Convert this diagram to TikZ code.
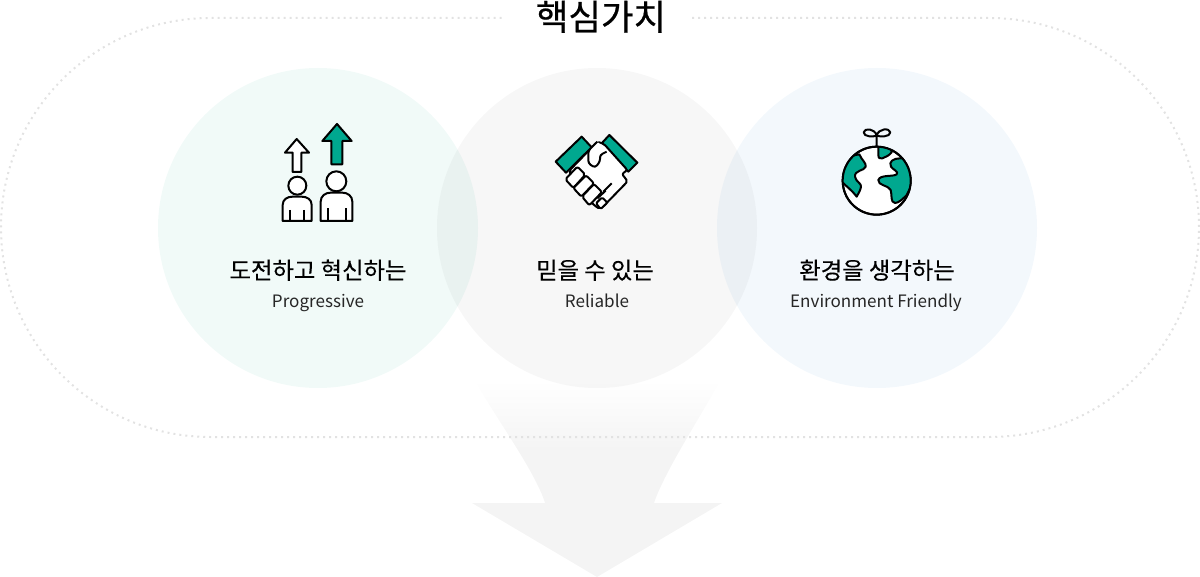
\documentclass[tikz,border=0pt]{standalone}
\usepackage{fontspec}
\setmainfont{Noto Sans CJK KR}
\newfontfamily\titlefont[FakeBold=0.6]{Noto Sans CJK KR}
\newfontfamily\namefont[FakeBold=0.2]{Noto Sans CJK KR}
\definecolor{iconteal}{RGB}{0,168,143}
\definecolor{arrowgray}{RGB}{244,244,244}
\pgfdeclareverticalshading{arrowfade}{100bp}{color(0bp)=(arrowgray); color(56bp)=(arrowgray); color(73bp)=(white); color(100bp)=(white)}
\tikzset{
  valuecircle/.style={draw opacity=0,blend mode=multiply},
  iconline/.style={line width=1.5pt,line join=round,color=black},
  zoomed/.style={x=0.25pt,y=0.25pt},
  titletext/.style={anchor=base,font=\titlefont\fontsize{26.5}{30}\selectfont},
  nametext/.style={anchor=base,font=\namefont\fontsize{17.5}{20}\selectfont},
  subtext/.style={anchor=base,font=\fontsize{12.8}{16}\selectfont,color=black!85}
}

\begin{document}
\begin{tikzpicture}[x=0.75pt,y=0.75pt,yscale=-1,xscale=1]
\useasboundingbox (0,0) rectangle (1200,577);

%Shape: Down arrow
\shade [shading=arrowfade] (470,372) .. controls (490,410) and (535,470) .. (545,503) -- (472,503) -- (597,577) -- (722,503) -- (654,503) .. controls (665,470) and (705,410) .. (725,372) -- cycle ;

%Shape: Dotted outline
\draw [color={rgb, 255:red, 226; green, 226; blue, 226 },line width=1.5pt,dash pattern={on 1.5pt off 3pt}] (692,18) -- (989.5,18) arc (-90:90:209.5) -- (210.5,437) arc (90:270:209.5) -- (505,18) ;

%Shape: Circles
\fill [valuecircle,fill={rgb, 255:red, 241; green, 250; blue, 248 }] (318,228) circle (160) ;
\fill [valuecircle,fill={rgb, 255:red, 247; green, 247; blue, 247 }] (597,228) circle (160) ;
\fill [valuecircle,fill={rgb, 255:red, 243; green, 248; blue, 252 }] (877,228) circle (160) ;

%Icon: People and arrows
\begin{scope}[shift={(260,110)},zoomed]
\draw [iconline,fill=white] (110,87) -- (147,128) -- (124,128) -- (124,186) -- (98,186) -- (98,128) -- (75,128) -- cycle ;
\draw [iconline,fill=iconteal] (231,42) -- (275,93) -- (247,93) -- (247,163) -- (214,163) -- (214,93) -- (187,93) -- cycle ;
\draw [iconline,fill=white] (112,227) circle (27) ;
\draw [iconline,fill=white] (229,214) circle (30) ;
\draw [iconline,fill=white] (68,333) -- (68,285) .. controls (68,268) and (82,260) .. (98,260) -- (125,260) .. controls (141,260) and (155,268) .. (155,285) -- (155,333) -- cycle ;
\draw [iconline] (90,300) -- (90,333) (133,300) -- (133,333) ;
\draw [iconline,fill=white] (182,333) -- (182,275) .. controls (182,258) and (196,248) .. (212,248) -- (247,248) .. controls (263,248) and (277,258) .. (277,275) -- (277,333) -- cycle ;
\draw [iconline] (203,295) -- (203,333) (258,295) -- (258,333) ;
\end{scope}

%Icon: Handshake
\begin{scope}[shift={(540,120)},zoomed]
\draw [iconline,fill=iconteal] (125,50) -- (155,82) -- (78,158) -- (47,125) -- cycle ;
\draw [iconline,fill=iconteal] (208,45) -- (292,128) -- (265,155) -- (185,70) -- cycle ;
\draw [iconline,fill=white,rounded corners=1.5pt] (150,88) -- (172,65) -- (192,72) -- (262,150) -- (246,162) -- (263,184) -- (195,254) -- (180,267) -- (165,258) -- (100,190) -- (88,152) -- cycle ;
\draw [iconline] (190,215) -- (215,190) (172,235) -- (197,212) ;
\draw [iconline,fill=white,rounded corners=1.5pt] (76,178) -- (112,140) -- (136,164) -- (100,204) -- cycle ;
\draw [iconline,fill=white,rounded corners=1.5pt] (100,204) -- (138,166) -- (162,190) -- (124,230) -- cycle ;
\draw [iconline,fill=white,rounded corners=1.5pt] (126,230) -- (162,192) -- (186,216) -- (148,256) -- cycle ;
\draw [iconline,fill=white,rounded corners=1pt] (168,250) -- (186,232) -- (202,248) -- (182,267) -- cycle ;
\draw [iconline,fill=white,rounded corners=2pt] (172,65) -- (145,92) -- (145,130) -- (165,143) -- (180,125) -- (180,105) -- (200,95) ;
\end{scope}

%Icon: Globe and sprout
\begin{scope}[shift={(825,115)},zoomed]
\draw [iconline,fill=white] (155,197) circle (102) ;
\begin{scope}
\clip (155,197) circle (102) ;
\draw [iconline,fill=iconteal] (103,118) .. controls (110,135) and (125,145) .. (122,155) .. controls (118,168) and (88,165) .. (90,185) .. controls (92,200) and (110,205) .. (108,215) .. controls (106,228) and (100,235) .. (95,245) .. controls (80,225) and (65,215) .. (50,200) -- (40,130) -- cycle ;
\draw [iconline,fill=iconteal] (160,95) -- (160,120) .. controls (160,130) and (165,132) .. (172,130) .. controls (182,126) and (192,122) .. (200,112) -- (195,90) -- cycle ;
\draw [iconline,fill=iconteal] (225,130) .. controls (205,130) and (190,140) .. (198,155) .. controls (205,165) and (222,170) .. (215,178) .. controls (205,186) and (165,178) .. (160,195) .. controls (158,212) and (190,210) .. (197,225) .. controls (202,240) and (195,262) .. (210,264) .. controls (222,264) and (235,250) .. (245,240) -- (270,190) -- (245,130) -- cycle ;
\end{scope}
\draw [iconline] (155,197) circle (102) ;
\draw [iconline] (155,95) -- (155,62) .. controls (150,40) and (118,38) .. (116,52) .. controls (116,66) and (145,66) .. (155,62) .. controls (165,66) and (196,66) .. (196,52) .. controls (194,38) and (160,40) .. (155,62) ;
\end{scope}

% Text Node
\draw (601,30) node (titlecore) [titletext] {핵심가치};
% Text Node
\draw (318,279) node (nameprogress) [nametext] {도전하고 혁신하는};
% Text Node
\draw (318,308) node (subprogress) [subtext] {Progressive};
% Text Node
\draw (595,279) node (namereliable) [nametext] {믿을 수 있는};
% Text Node
\draw (597,308) node (subreliable) [subtext] {Reliable};
% Text Node
\draw (877,279) node (namefriendly) [nametext] {환경을 생각하는};
% Text Node
\draw (876,308) node (subfriendly) [subtext] {Environment Friendly};

\end{tikzpicture}
\end{document}
